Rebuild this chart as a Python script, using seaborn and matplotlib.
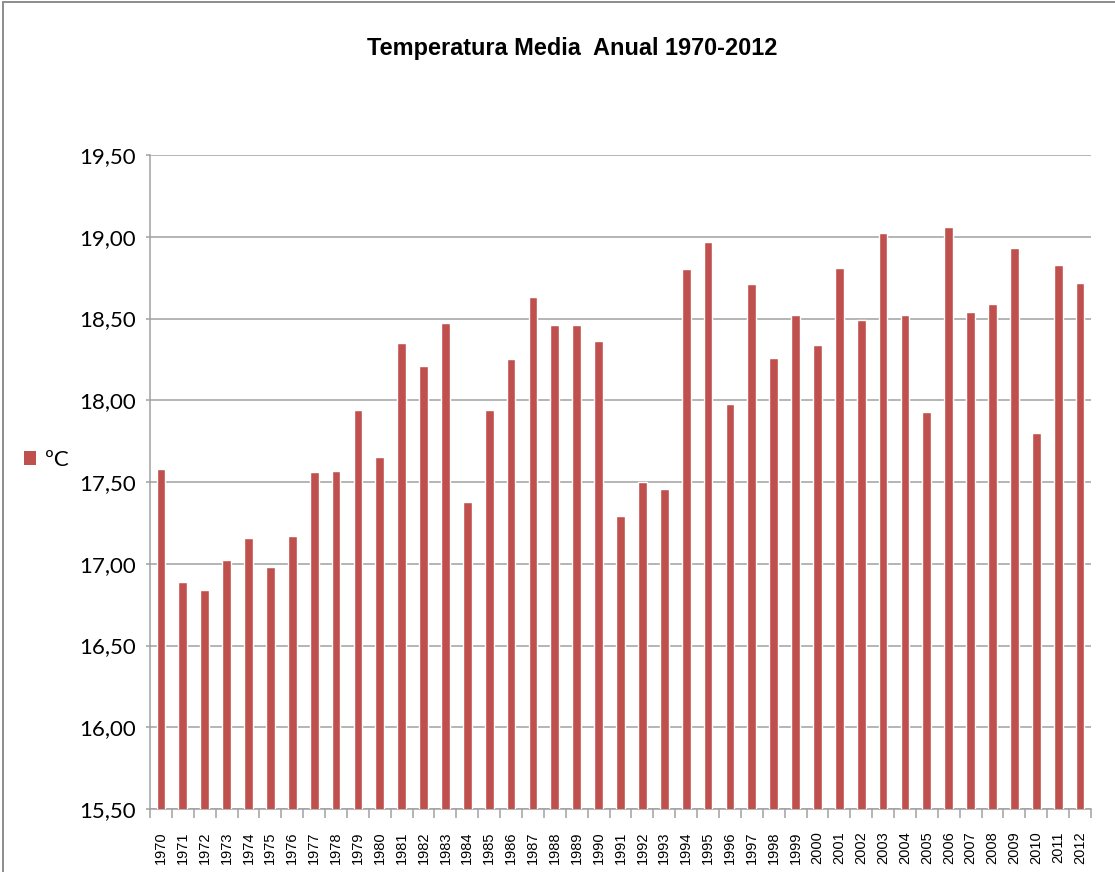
import pandas as pd
import matplotlib
matplotlib.use("Agg")
import matplotlib.pyplot as plt
from matplotlib.patches import Patch
from matplotlib.lines import Line2D
from matplotlib.ticker import FuncFormatter, FixedLocator
import seaborn as sns

# Data
years = [str(y) for y in range(1970, 2013)]
temps = [17.58, 16.89, 16.84, 17.02, 17.16, 16.98, 17.17, 17.56, 17.57, 17.94,
         17.65, 18.35, 18.21, 18.47, 17.38, 17.94, 18.25, 18.63, 18.46, 18.46,
         18.36, 17.29, 17.50, 17.46, 18.80, 18.97, 17.98, 18.71, 18.26, 18.52,
         18.34, 18.81, 18.49, 19.02, 18.52, 17.93, 19.06, 18.54, 18.59, 18.93,
         17.80, 18.83, 18.72]
yticks = [15.5, 16.0, 16.5, 17.0, 17.5, 18.0, 18.5, 19.0, 19.5]
series_name = "ºC"
title = "Temperatura Media  Anual 1970-2012"

bar_color = "#C0504D"
grid_color = "#A0A0A0"

df = pd.DataFrame({"year": years, "temp": temps})

sns.set_style("white")
plt.rcParams['font.family'] = ['Lato', 'DejaVu Sans']
plt.rcParams['text.color'] = 'black'

fig = plt.figure(figsize=(11.15, 8.72), dpi=100)
ax = fig.add_axes([150 / 1115, 1 - 809 / 872, (1091 - 150) / 1115, (809 - 155) / 872])

sns.barplot(data=df, x="year", y="temp", color=bar_color, saturation=1,
            width=0.4, ax=ax, zorder=3)

ax.set_ylim(15.5, 19.5)
ax.set_xlim(-0.5, len(years) - 0.5)
ax.set_yticks(yticks)
ax.yaxis.set_major_formatter(FuncFormatter(lambda v, p: f"{v:.2f}".replace(".", ",")))
ax.grid(axis="y", color=grid_color, linewidth=1.1, zorder=0)
ax.set_axisbelow(True)
ax.set_xlabel("")
ax.set_ylabel("")

for s in ["top", "right"]:
    ax.spines[s].set_visible(False)
for s in ["left", "bottom"]:
    ax.spines[s].set_color(grid_color)
    ax.spines[s].set_linewidth(1.1)

ax.tick_params(axis="y", length=3, width=1.1, color=grid_color, pad=7,
               labelsize=16, labelcolor="black", left=True)
ax.tick_params(axis="x", which="major", length=0, pad=16, labelcolor="black",
               labelsize=10.5, labelrotation=90, labelfontfamily="Liberation Sans")
ax.xaxis.set_minor_locator(FixedLocator([i - 0.5 for i in range(len(years) + 1)]))
ax.tick_params(axis="x", which="minor", length=6.5, width=1.1, color=grid_color, bottom=True)

fig.text(572 / 1115, 1 - 49 / 872, title, ha="center", va="center", color="black",
         fontsize=16.9, fontweight="bold", family="Liberation Sans")

handle = Patch(facecolor=bar_color, edgecolor="none")
fig.legend([handle], [series_name], loc="center left",
           bbox_to_anchor=(4 / 1115, 1 - 460 / 872), frameon=False,
           fontsize=16, handlelength=0.55, handleheight=0.55, handletextpad=0.4,
           labelcolor="black")

# outer chart border (cropped on the right and bottom)
fig.add_artist(Line2D([3 / 1115, 3 / 1115], [0, 1 - 2 / 872], color="#8C8C8C", linewidth=1.4))
fig.add_artist(Line2D([3 / 1115, 1], [1 - 2 / 872, 1 - 2 / 872], color="#8C8C8C", linewidth=1.4))

fig.savefig("out.png", dpi=100)
